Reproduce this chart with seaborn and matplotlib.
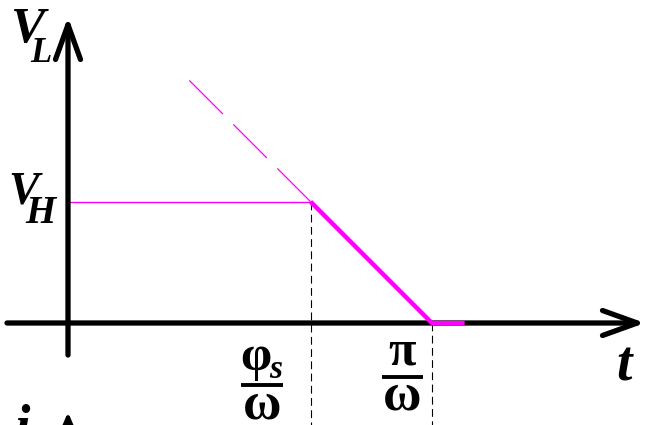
#!/usr/bin/env python
# coding:utf-8

import numpy as np
import pandas as pd
import matplotlib
matplotlib.use("Agg")
import matplotlib.pyplot as plt
from matplotlib.patches import FancyArrowPatch
import seaborn as sns


################################################
#  データ  (t の単位: 1/ω,  V の単位: V_H)
################################################
t_phi = 2.0     # φs/ω
t_pi = 3.0      # π/ω
v_h = 1.0       # V_H

# 太線: 実際の V_L
t_solid = [2.0, 3.0, 3.27]
v_solid = [1.0, 0.0, 0.0]

# 細い破線: 延長部分
t_ext = [1.0, 2.0]
v_ext = [2.0, 1.0]

# V_H の水平線
t_vh = [0.0, 2.0]
v_vh = [1.0, 1.0]

tick_pos = [t_phi, t_pi]
tick_num = ["φ", "π"]
tick_den = ["ω", "ω"]

MAGENTA = "#ff00ff"
FONT = "Liberation Serif"


################################################
#  描画
################################################
sns.set_theme(style="white")
plt.rcParams["font.family"] = [FONT, "DejaVu Serif"]
plt.rcParams["text.color"] = "black"

fig = plt.figure(figsize=(6.46, 4.25), dpi=100)
ax = fig.add_axes([0, 0, 1, 1])
ax.set_xlim(-0.5606, 4.7651)
ax.set_ylim(-0.8409, 2.6628)
ax.axis("off")

df_solid = pd.DataFrame({"t": t_solid, "v": v_solid})
df_ext = pd.DataFrame({"t": t_ext, "v": v_ext})
df_vh = pd.DataFrame({"t": t_vh, "v": v_vh})

sns.lineplot(data=df_vh, x="t", y="v", sort=False, color=MAGENTA, lw=1.0, ax=ax)
sns.lineplot(data=df_ext, x="t", y="v", sort=False, color=MAGENTA, lw=0.9,
             ax=ax, linestyle=(0, (38, 11.8)))
sns.lineplot(data=df_solid, x="t", y="v", sort=False, color=MAGENTA, lw=3.2,
             ax=ax, solid_joinstyle="miter", solid_capstyle="butt", zorder=5)

# 縦の破線
ax.plot([t_phi, t_phi], [v_h, -0.9], color="black", lw=0.8, ls=(0, (7, 4)), zorder=1)
ax.plot([t_pi, t_pi], [0, -0.9], color="black", lw=0.8, ls=(0, (7, 4)), zorder=1)

# 軸 (矢印)
arrow_kw = dict(arrowstyle="->,head_length=25,head_width=9", mutation_scale=1,
                color="black", lw=3.8, capstyle="round", joinstyle="round",
                shrinkA=0, shrinkB=0, zorder=4)
ax.add_patch(FancyArrowPatch((0, -0.264), (0, 2.523), **arrow_kw))
ax.add_patch(FancyArrowPatch((-0.503, 0), (4.757, 0), **arrow_kw))

# 軸ラベル
bi = dict(fontweight="bold", fontstyle="italic", color="black")
ax.text(-0.47, 2.317, "V", fontsize=37, ha="left", va="baseline", **bi)
ax.text(-0.31, 2.152, "L", fontsize=25, ha="left", va="baseline", **bi)
ax.text(-0.49, 0.989, "V", fontsize=33, ha="left", va="baseline", **bi)
ax.text(-0.35, 0.824, "H", fontsize=28, ha="left", va="baseline", **bi)
ax.text(4.58, -0.47, "t", fontsize=40, ha="center", va="baseline", **bi)

# 目盛ラベル (分数)
num_y = [-0.39, -0.34]
bar_y = [-0.515, -0.445]
den_y = [-0.785, -0.71]
num_dx = [-0.05, 0.0]
for i in range(len(tick_pos)):
    xc = tick_pos[i] - 0.40 if i == 0 else tick_pos[i] - 0.245
    ax.text(xc + num_dx[i], num_y[i], tick_num[i], fontsize=36, color="black",
            fontweight="bold", ha="center", va="baseline")
    ax.plot([xc - 0.17, xc + 0.17], [bar_y[i], bar_y[i]], color="black", lw=2.8,
            solid_capstyle="butt")
    ax.text(xc, den_y[i], tick_den[i], fontsize=38, fontweight="bold",
            color="black", ha="center", va="baseline")
ax.text(tick_pos[0] - 0.34, -0.45, "s", fontsize=24, ha="left", va="baseline", **bi)

# 下の図の一部 (切れている)
ax.text(-0.38, -1.0, "i", fontsize=40, ha="center", va="baseline", **bi)
ax.add_patch(FancyArrowPatch((0, -1.2), (0, -0.735),
                             arrowstyle="-|>,head_length=14,head_width=6",
                             mutation_scale=1, color="black", lw=3, shrinkA=0, shrinkB=0))

plt.savefig("out.png", dpi=100)
